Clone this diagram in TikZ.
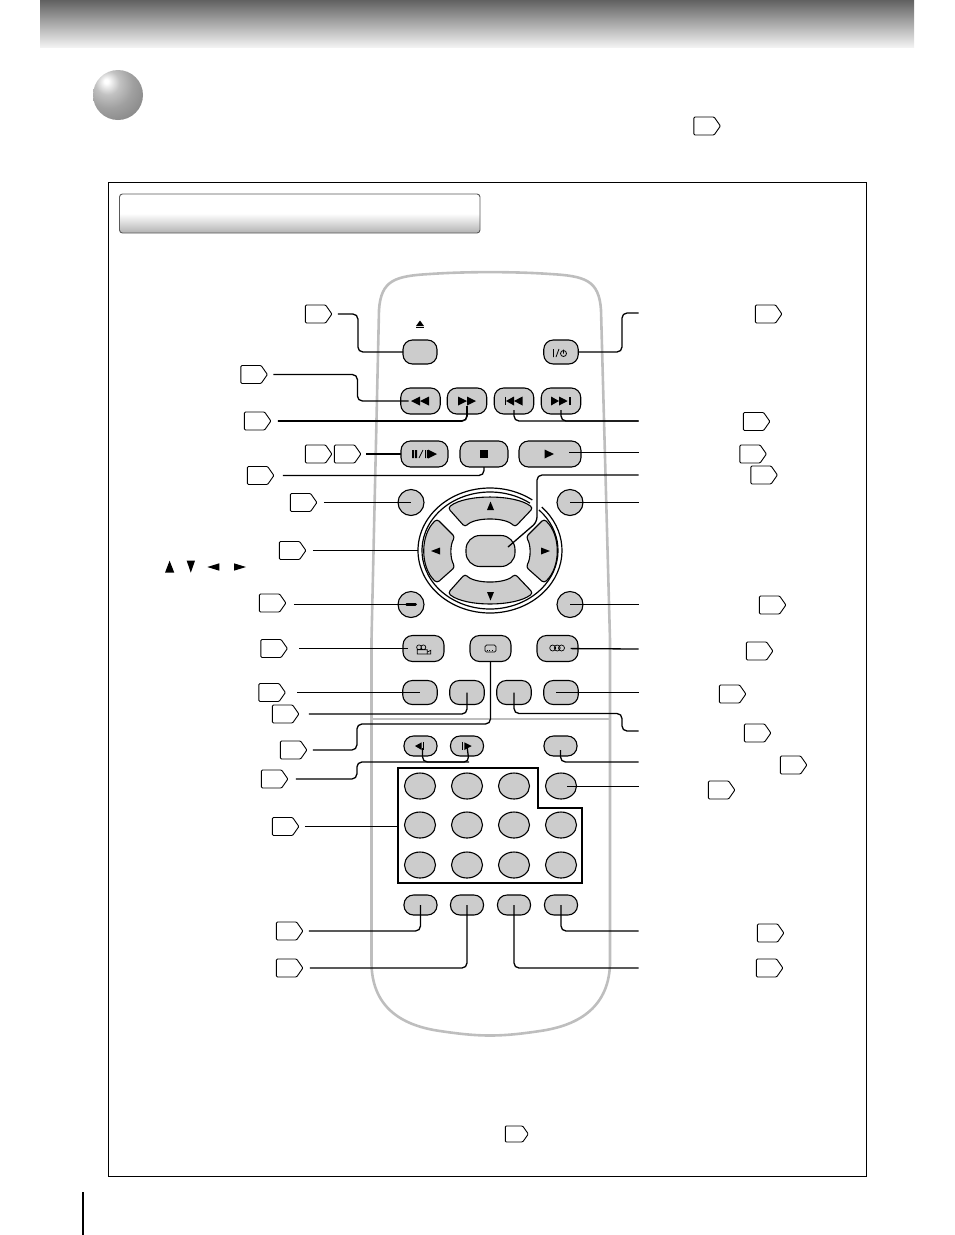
\documentclass[tikz,border=0pt]{standalone}
\usepackage{tikz}
\usetikzlibrary{calc,shapes.geometric,shapes.symbols}
\definecolor{keygray}{HTML}{CCCCCC}
\definecolor{bodygray}{HTML}{BEBEBE}
\definecolor{ballmid}{HTML}{C2C2C2}
\definecolor{ballout}{HTML}{A0A0A0}
\definecolor{ballrim}{HTML}{888888}
\definecolor{balledge}{HTML}{787878}
\pgfdeclareradialshading{sphere}{\pgfpoint{-12bp}{14bp}}{
  color(0bp)=(white); color(2bp)=(white); color(12bp)=(ballmid); color(24bp)=(ballout);
  color(38bp)=(ballrim); color(60bp)=(balledge); color(100bp)=(balledge)}
\tikzset{
  tag/.style={shape=signal,signal to=east,signal pointer angle=110,draw,line width=0.9pt,
    minimum width=26.5pt,minimum height=18pt,inner sep=0pt,outer sep=0pt,rounded corners=1pt,xshift=-2.5pt},
  key/.style 2 args={draw,fill=keygray,line width=1.1pt,inner sep=0pt,outer sep=0pt,
    rounded corners=9.5pt,minimum width=#1,minimum height=#2},
  padkey/.style={draw,fill=keygray,line width=1.1pt,ellipse,inner sep=0pt,outer sep=0pt,
    minimum width=31pt,minimum height=26pt},
  roundkey/.style={draw,fill=keygray,line width=1.1pt,circle,inner sep=0pt,outer sep=0pt,
    minimum size=26pt},
  leader/.style={line width=1.3pt,rounded corners=5pt},
  fromtag/.style={leader,shorten <=7pt}
}
\newcommand{\tri}[3]{\fill (#1) -- (#2) -- (#3) -- cycle;}
\newcommand{\navpad}{ % one pad of the ring, upper one
  (448,508) .. controls (465,494) and (515,494) .. (533,508)
  -- (515,527) .. controls (505,517) and (475,517) .. (465,527) -- cycle
}
\begin{document}
\begin{tikzpicture}[x=1pt,y=-1pt]
      \useasboundingbox (0,0) rectangle (954,1235);
      \shade[top color=black!62,bottom color=black!5] (40,0) rectangle (914,47);% page band
      \node[circle,minimum size=50pt,inner sep=0pt,shading=sphere] (ball) at (118,95) {};
      \draw[line width=1pt] (108,182) rectangle (866,1176);
      \shade[draw=black!65,line width=0.9pt,rounded corners=3pt,top color=white,bottom color=black!30,
        middle color=white] (119.5,194) rectangle (480,233);
      \draw[line width=2.2pt] (83,1192) -- (83,1235);

      % remote outline
      \draw[bodygray,line width=2.6pt] (379,310) .. controls (381,280) and (395,276) .. (430,274)
        .. controls (465,271.5) and (515,271.5) .. (550,274)
        .. controls (585,276) and (599,280) .. (601,310) -- (610,640) -- (610,965)
        .. controls (608,1010) and (575,1026) .. (540,1031)
        .. controls (520,1034) and (505,1035.5) .. (490,1035.5)
        .. controls (475,1035.5) and (460,1034) .. (440,1031)
        .. controls (405,1026) and (373,1010) .. (371.5,965) -- (371.5,640) -- cycle;
      \draw[bodygray,line width=1.6pt] (372,719) -- (609,719);

      % keys
      \node[key={34}{24}] (btnEject) at (420,352) {};
      \node[key={34.5}{24}] (btnPower) at (561,352) {};
      \foreach \nm/\x in {Rew/420.5,Ff/467,Prev/514,Next/561}
        \node[key={39.5}{26}] (btn\nm) at (\x,401) {};
      \node[key={47}{26}] (btnPause) at (424.5,454) {};
      \node[key={48}{26}] (btnStop) at (484,454) {};
      \node[key={62}{26}] (btnPlay) at (550,454) {};
      \foreach \nm/\x/\y in {TopL/411/502.5,TopR/570/502.5,LowL/411/604.5,LowR/570/604.5}
        \node[roundkey] (btn\nm) at (\x,\y) {};
      \foreach \nm/\x in {Angle/423.5,Sub/490.5,Audio/557.5}
        \node[key={41}{26}] (btn\nm) at (\x,648.5) {};
      \foreach \nm/\x in {RowA/420,RowB/467,RowC/514,RowD/561}
        \node[key={34.5}{24}] (btn\nm) at (\x,692.5) {};
      \foreach \nm/\x in {StepB/420.5,StepF/467,StepR/560.5}
        \node[key={33}{20}] (btn\nm) at (\x,746) {};
      \foreach \nm/\x in {LastA/420.5,LastB/467,LastC/514,LastD/561}
        \node[key={33}{20}] (btn\nm) at (\x,905) {};
      \draw[line width=1.5pt] (398,768) -- (538,768) -- (538,808) -- (582,808) -- (582,883) -- (398,883) -- cycle;
      \foreach \x in {420,467,514,561}{
        \foreach \y in {786,825,865}{
          \node[padkey] (pad-\x-\y) at (\x,\y) {};
        }
      }

      % ring with its pads
      \node[ellipse,minimum width=144pt,minimum height=125pt,inner sep=0pt,outer sep=0pt] (navRing) at (490,550.5) {};
      \begin{scope}[y=1pt,xshift=490pt,yshift=-550.5pt]
        \draw[line width=1.2pt] (54:72 and 62.5) arc[start angle=54,end angle=404,x radius=72,y radius=62.5];
        \draw[line width=1.2pt] (54:68 and 58.5) arc[start angle=54,end angle=404,x radius=68,y radius=58.5];
      \end{scope}
      \draw[fill=keygray,line width=1.1pt,rounded corners=3pt] \navpad;
      \begin{scope}[yshift=-1101pt,y=1pt]
        \draw[fill=keygray,line width=1.1pt,rounded corners=3pt] \navpad;
      \end{scope}
      \draw[fill=keygray,line width=1.1pt,rounded corners=3pt] (437,519) .. controls (420,535) and (420,567) .. (437,583)
        -- (455,567) .. controls (450,558) and (450,545) .. (455,537) -- cycle;
      \draw[fill=keygray,line width=1.1pt,rounded corners=3pt] (544,519) .. controls (561,535) and (561,567) .. (544,583)
        -- (526,567) .. controls (531,558) and (531,545) .. (526,537) -- cycle;
      \node[key={49}{31},rounded corners=14pt] (btnEnter) at (490.5,551) {};

      % key symbols
      \tri{416,326}{420,320.5}{424,326}
      \fill (416,327) rectangle (424,328.4);
      \tri{411,401}{420,396.5}{420,405.5} \tri{420,401}{429,396.5}{429,405.5}
      \tri{476,401}{467,396.5}{467,405.5} \tri{467,401}{458,396.5}{458,405.5}
      \fill (504.5,397) rectangle (505.8,405);
      \tri{506,401}{514,396.5}{514,405.5} \tri{514,401}{522.5,396.5}{522.5,405.5}
      \tri{551,396.5}{551,405.5}{559,401} \tri{559,396.5}{559,405.5}{567.7,401}
      \fill (569,397) rectangle (571,405);
      \fill (412,450) rectangle (414,458) (415,450) rectangle (417,458) (425,450) rectangle (426,458) (427,450) rectangle (428,458);
      \draw[line width=0.8pt] (419,458) -- (423,450);
      \tri{428,449.5}{428,458.5}{437,454}
      \fill (480,450) rectangle (487.5,457.5);
      \tri{544.5,449.5}{544.5,458.5}{554,454}
      \tri{487,510}{490.5,501.5}{494,510} \tri{487,592}{490.5,600.5}{494,592}
      \tri{431,551}{440,547.5}{440,554.5} \tri{550,551}{541,547.5}{541,554.5}
      \draw[line width=3pt,line cap=round] (406.5,604.5) -- (415.5,604.5);
      \draw[line width=0.8pt] (553.5,349) -- (553.5,357) (556,357) -- (559,349);
      \draw[line width=0.8pt] (563.5,353.5) circle (3) (563.5,349.5) -- (563.5,353.5);
      \draw[line width=0.7pt] (419,647.3) circle (2.4) (423.4,647.3) circle (2.4) (417.3,649.8) rectangle (427.3,654);
      \draw[line width=0.7pt] (427.3,652) -- (430.7,650.3) -- (430.7,654) -- (427.3,654);
      \draw[line width=0.7pt,rounded corners=1.5pt] (485,645) rectangle (496,652);
      \draw[line width=0.8pt,dotted] (486.5,650.6) -- (494.5,650.6);
      \draw[line width=0.7pt] (552.7,648) circle (3) (557.2,648) circle (3) (561.5,648) circle (3);
      \tri{415,746}{421.7,742.3}{421.7,750} \fill (422.8,742) rectangle (424,750);
      \tri{471.7,746}{464.3,742.3}{464.3,750} \fill (462,742) rectangle (463.2,750);

      % page tags
      \foreach \nm/\x/\y in {tagEject/318/314,tagRew/253.5/374.5,tagFf/257/421,tagPauseA/318/454,
        tagPauseB/347/454,tagStop/260/475.5,tagTop/303/502.5,tagNav/292/550.5,tagLow/272/603,
        tagAngle/273.5/648.5,tagRow/271.5/692.5,tagRowB/285/714,tagSub/293/750,tagStep/274/779,
        tagPad/285/826.5,tagLastA/289/931,tagLastB/289/968,tagHead/706.5/126,
        tagPower/768/314,tagSkip/756/421.5,tagPlay/752.5/454,tagEnter/763.5/475,tagLowR/772/605,
        tagAudio/759/651,tagRowD/732/694,tagRowC/757/733,tagStepR/793/765,tagPadR/721/790,
        tagLastD/770/933,tagLastC/769/968}
        \node[tag] (\nm) at (\x,\y) {};
      \node[tag,minimum width=23pt,minimum height=16pt] (tagNote) at (516.5,1134) {};

      % small arrows beside the left column
      \tri{165,572.7}{169.6,560.7}{174.3,572.7}
      \tri{186.7,560.7}{190.8,572.7}{195,560.7}
      \tri{207.3,567}{219.3,563.3}{219.3,570.7}
      \tri{246,567}{234,563.3}{234,570.7}

      % free ends on the right and corners
      \foreach \nm/\y in {endPower/313,endSkip/421,endPlay/452.5,endEnter/475,endTopR/502.5,endLowR/604.5,
        endAudio/649,endRowD/692.5,endRowC/731,endStepR/762,endPadR/786.5,endLastD/931,endLastC/968}
        \coordinate (\nm) at (638.5,\y);
      \coordinate (cornerSub) at (490.5,724);
      \coordinate (cornerStep) at (469,762);
      \coordinate (tipEnter) at (508,547);
      \coordinate (padEdge) at (398,826.5);

      % connectors, left side
      \draw[fromtag,shorten <=6pt] (tagEject.east) -- ++(26,0) |- (btnEject.west);
      \draw[fromtag,shorten <=6pt,shorten >=12pt] (tagRew.east) -- ++(90,0) |- (btnRew.center);
      \draw[fromtag,line width=1.6pt,shorten >=5pt] (tagFf.east) -| (btnFf.center);
      \draw[fromtag,shorten <=5pt] (tagPauseB.east) -- (btnPause.west);
      \draw[fromtag,shorten <=9pt,shorten >=13pt] (tagStop.east) -| (btnStop.center);
      \draw[fromtag] (tagTop.east) -- (btnTopL.center);
      \draw[fromtag,line width=1.6pt] (tagNav.east) -- (navRing.west);
      \draw[leader,shorten <=8pt] (tagLow.east |- btnLowL.center) -- (btnLowL.center);
      \draw[fromtag,shorten <=12pt,shorten >=16pt] (tagAngle.east) -- (btnAngle.center);
      \draw[fromtag,shorten <=12pt] (tagRow.east) -- (btnRowA.center);
      \draw[fromtag,shorten <=10pt] (tagRowB.east) -| (btnRowB.center);
      \draw[fromtag,shorten <=6pt] (tagSub.east) -- ++(50,0) |- (cornerSub) -- (btnSub.south);
      \draw[fromtag,shorten <=8pt,shorten >=2pt] (tagStep.east) -- ++(69,0) |- (cornerStep) -- (btnStepF.center);
      \draw[leader,shorten <=2pt] ($(btnStepB.center)+(2,0)$) |- (cornerStep);
      \draw[fromtag,shorten <=6pt] (tagPad.east) -- (padEdge);
      \draw[fromtag,shorten <=6pt] (tagLastA.east) -| (btnLastA.center);
      \draw[fromtag] (tagLastB.east) -| (btnLastB.center);

      % connectors, right side
      \draw[leader] (btnPower.east) -- ++(43.75,0) |- (endPower);
      \draw[leader,shorten <=9pt] (btnPrev.center) |- (endSkip);
      \draw[leader,shorten <=9pt] (btnNext.center) |- (endSkip);
      \draw[leader,shorten <=19pt] (btnPlay.center |- endPlay) -- (endPlay);
      \draw[leader] (endEnter) -- ++(-101.5,0) -- ++(0,47) -- (tipEnter);
      \draw[leader] (btnTopR.center) -- (endTopR);
      \draw[leader] (btnLowR.center) -- (endLowR);
      \draw[leader,shorten <=13pt] (btnAudio.center) -- (endAudio);
      \draw[leader,shorten <=-5pt] (btnRowD.center) -- (endRowD);
      \draw[leader] (btnRowC.center) -- ++(0,21) -- ++(108,0) |- (endRowC);
      \draw[leader,shorten <=4pt] (btnStepR.center) |- (endStepR);
      \draw[leader,shorten <=6pt] (pad-561-786.center |- endPadR) -- (endPadR);
      \draw[leader] (btnLastD.center) |- (endLastD);
      \draw[leader] (btnLastC.center) |- (endLastC);
    \end{tikzpicture}
\end{document}
